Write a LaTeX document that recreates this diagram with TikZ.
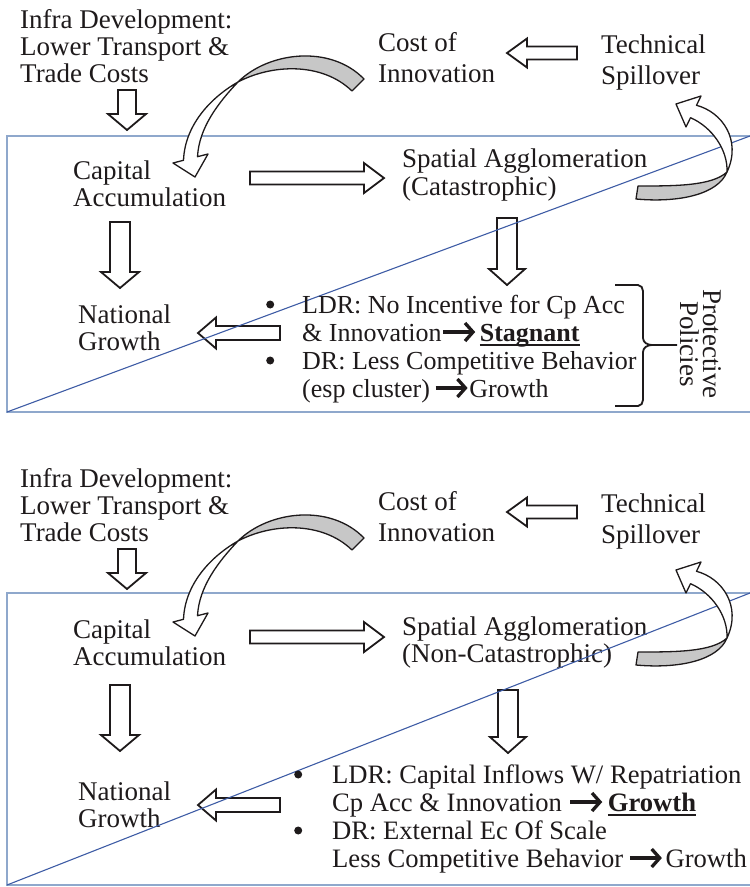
\documentclass[tikz,border=0pt]{standalone}
\usepackage{fontspec}
\setmainfont{Liberation Serif}
\usetikzlibrary{calc,arrows.meta}

\definecolor{frameblue}{RGB}{143,168,204}
\definecolor{diagblue}{RGB}{62,92,165}
\definecolor{ink}{RGB}{30,26,27}

% bold word with a thick underline
\newsavebox\ulbox
\newcommand\ubold[1]{\sbox\ulbox{\bfseries #1}\rlap{\rule[-4.5pt]{\wd\ulbox}{1.8pt}}\usebox\ulbox}
% heavy arrow used inside the text
\newcommand\darr{\tikz[baseline=-9pt]\draw[ink,line width=3.3pt,-{Straight Barb[length=8pt,width=18pt]}] (0pt,0pt) -- (32pt,0pt);}
% round list bullet hanging left of the line by #1
\newcommand\dotitem[1]{\llap{\raisebox{4.5pt}{\tikz\fill[ink] (0pt,0pt) circle (4pt);}\hspace{#1}}}

% hollow block arrow: tail, tip, half shaft width, half head width, head length
\newcommand\blockarrow[5]{%
  \coordinate (bahead) at ($(#2)!#5!(#1)$);
  \draw[blockarr] ($(#1)!#3!90:(#2)$) -- ($(bahead)!#3!-90:(#1)$) -- ($(bahead)!#4!-90:(#1)$) -- (#2)
    -- ($(bahead)!#4!90:(#1)$) -- ($(bahead)!#3!90:(#1)$) -- ($(#1)!#3!-90:(#2)$) -- cycle;}

% twisted ribbon from Cost of Innovation down to Capital Accumulation
\newcommand\ribbonA{%
  \draw[ribbong] (238,82) .. controls (268,52) and (330,44) .. (364,79) -- (352,91)
    .. controls (322,62) and (272,64) .. (238,82) -- cycle;
  \draw[ribbonw] (238,82) .. controls (215,95) and (185,122) .. (183.5,160.3) -- (173,163) -- (195,177)
    -- (208,154) -- (197.5,156.7) .. controls (199,128) and (218,103) .. (238,82) -- cycle;}

% twisted ribbon from Spatial Agglomeration up to Technical Spillover
\newcommand\ribbonB{%
  \draw[ribbong] (727,172) .. controls (712,186) and (675,186) .. (638,186) -- (636,199)
    .. controls (680,203) and (718,194) .. (727,172) -- cycle;
  \draw[ribbonw] (727,172) .. controls (742,140) and (722,112) .. (696.5,105.3) -- (701,96) -- (676,104)
    -- (686,127) -- (690.5,117.7) .. controls (712,127) and (728,150) .. (727,172) -- cycle;}

% parts shared by both panels (text nodes anchored on the baseline of their last line)
\newcommand\upperpart[1]{%
  \node[txt] (#1-infra) at (20,82) {Infra Development:\\Lower Transport \&\\Trade Costs};
  \node[txt, font=\fontsize{27}{31}\selectfont] (#1-cost) at (378,82) {Cost of\\Innovation};
  \node[txt, font=\fontsize{27}{31}\selectfont] (#1-tech) at (601,84) {Technical\\Spillover};
  \node[txt] (#1-cap) at (73,206) {Capital\\Accumulation};
  \coordinate (#1-infra-out) at (127,90);
  \coordinate (#1-cap-in) at (127,130);
  \blockarrow{#1-infra-out}{#1-cap-in}{9pt}{19pt}{16pt}
  \coordinate (#1-tech-out) at (577,53);
  \coordinate (#1-cost-in) at (507,53);
  \blockarrow{#1-tech-out}{#1-cost-in}{6.5pt}{14.5pt}{20pt}
  \coordinate (#1-cap-out) at (250,178);
  \coordinate (#1-sp-in) at (384,178);
  \blockarrow{#1-cap-out}{#1-sp-in}{6.5pt}{15pt}{20pt}
  \ribbonA}

\tikzset{
  txt/.style={font=\fontsize{27}{27}\selectfont, inner sep=0pt, align=left, anchor=base west, text=ink},
  blockarr/.style={draw=ink, line width=1.8pt, fill=white, line join=miter},
  frame/.style={draw=frameblue, line width=1.8pt},
  diag/.style={draw=diagblue, line width=1.1pt},
  ribbonw/.style={draw=ink, line width=1.3pt, fill=white, line join=round},
  ribbong/.style={draw=ink, line width=1.3pt, fill=black!22, line join=round},
  bracket/.style={draw=ink, line width=1.8pt},
}

\begin{document}
\begin{tikzpicture}[x=1pt,y=-1pt]
\useasboundingbox (0,0) rectangle (750,887);
\clip (0,0) rectangle (750,887);

% panel frames
\draw[frame] (7,136) rectangle (765,412);
\draw[frame] (7,593) rectangle (765,885);

% ---------- catastrophic case ----------
\upperpart{p1}
\node[txt, font=\fontsize{27}{28.5}\selectfont] (p1-sp) at (402,195.5) {Spatial Agglomeration\\(Catastrophic)};
\node[txt] (p1-nat) at (78,350) {National\\Growth};
\coordinate (p1-cap-s) at (120,222);
\coordinate (p1-nat-n) at (120,288);
\blockarrow{p1-cap-s}{p1-nat-n}{10pt}{19pt}{16pt}
\coordinate (p1-sp-s) at (507,218);
\coordinate (p1-list-n) at (507,285);
\blockarrow{p1-sp-s}{p1-list-n}{10pt}{18pt}{16pt}
\coordinate (p1-list-w) at (280,333);
\coordinate (p1-nat-e) at (198,333);
\blockarrow{p1-list-w}{p1-nat-e}{7pt}{15.5pt}{18pt}
\draw[diag] (7,412) -- (750,136);
\ribbonB
\node[txt, font=\fontsize{26}{28}\selectfont] (p1-list) at (302,397)
  {\dotitem{28pt}LDR: No Incentive for Cp Acc\\
   \& Innovation\darr\hspace{3pt}\ubold{Stagnant}\\
   \dotitem{28pt}DR: Less Competitive Behavior\\
   (esp cluster)\hspace{4pt}\darr Growth};
\draw[bracket] (615,285) -- (638,285) to[out=0,in=90] (643,291) -- (643,338)
  to[out=-90,in=180] (652,345) -- (677,345);
\draw[bracket] (652,345) to[out=180,in=90] (643,352) -- (643,400) to[out=-90,in=0] (638,406) -- (615,406);
\node[font=\fontsize{27}{23}\selectfont, align=center, rotate=-90, inner sep=0pt, text=ink]
  (p1-prot) at (701,344) {Protective\\Policies};

% ---------- non-catastrophic case ----------
\begin{scope}[shift={(0,459)}]
\upperpart{p2}
\node[txt] (p2-sp) at (402,203) {Spatial Agglomeration\\(Non-Catastrophic)};
\node[txt] (p2-nat) at (78,368) {National\\Growth};
\coordinate (p2-cap-s) at (120,226);
\coordinate (p2-nat-n) at (120,292);
\blockarrow{p2-cap-s}{p2-nat-n}{10pt}{19pt}{16pt}
\coordinate (p2-sp-s) at (508,231);
\coordinate (p2-list-n) at (508,294);
\blockarrow{p2-sp-s}{p2-list-n}{10pt}{18pt}{16pt}
\coordinate (p2-list-w) at (280,346);
\coordinate (p2-nat-e) at (198,346);
\blockarrow{p2-list-w}{p2-nat-e}{7pt}{15.5pt}{18pt}
\draw[diag] (7,426) -- (750,134);
\begin{scope}[shift={(0,7)}]
\ribbonB
\end{scope}
\node[txt, font=\fontsize{26.6}{28}\selectfont] (p2-list) at (332,408)
  {\dotitem{30pt}LDR: Capital Inflows W/ Repatriation\\
   Cp Acc \& Innovation \darr\hspace{4pt}\ubold{Growth}\\
   \dotitem{30pt}DR: External Ec Of Scale\\
   Less Competitive Behavior\hspace{5pt}\darr\hspace{2pt}Growth};
\end{scope}
\end{tikzpicture}
\end{document}
